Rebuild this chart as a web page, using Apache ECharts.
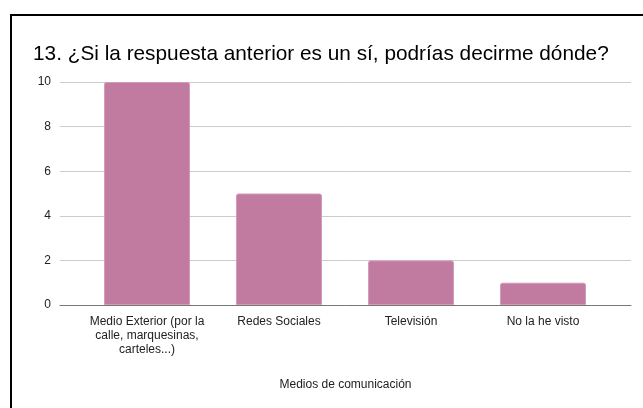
<!DOCTYPE html>
<html>
<head>
<meta charset="utf-8">
<script src="https://cdn.jsdelivr.net/npm/echarts@6/dist/echarts.min.js"></script>
<style>
  html, body { margin: 0; padding: 0; background: #fff; overflow: hidden; }
  #frame { position: absolute; left: 10px; top: 14px; width: 700px; height: 500px;
           border-top: 2px solid #000; border-left: 2px solid #000; }
  #chart { position: absolute; left: 0; top: 0; width: 643px; height: 408px; }
</style>
</head>
<body>
<div id="frame"></div>
<div id="chart"></div>
<script>
const chartTitle = '13. ¿Si la respuesta anterior es un sí, podrías decirme dónde?';
const axisTitle = 'Medios de comunicación';
const categories = ['Medio Exterior (por la\ncalle, marquesinas,\ncarteles...)', 'Redes Sociales', 'Televisión', 'No la he visto'];
const values = [10, 5, 2, 1];
const yTicks = [0, 2, 4, 6, 8, 10];

const font = 'Liberation Sans, Arial, sans-serif';
const chart = echarts.init(document.getElementById('chart'));
chart.setOption({
  backgroundColor: 'transparent',
  animation: false,
  title: {
    text: chartTitle,
    left: 28, top: 39,
    textStyle: { fontFamily: font, fontSize: 20.8, fontWeight: 'normal', color: '#000' }
  },
  grid: [
    { left: 60, right: 12, top: 82, bottom: 103 },
    { left: 81, right: 34, top: 82, bottom: 103 }
  ],
  xAxis: [
    {
      gridIndex: 0, type: 'category', data: categories,
      axisLine: { lineStyle: { color: '#777', width: 1 } },
      axisTick: { show: false }, axisLabel: { show: false },
      name: axisTitle, nameLocation: 'middle', nameGap: 74,
      nameTextStyle: { fontFamily: font, fontSize: 12, color: '#222' }
    },
    {
      gridIndex: 1, type: 'category', data: categories,
      axisLine: { show: false }, axisTick: { show: false },
      axisLabel: { fontFamily: font, fontSize: 12, color: '#222', lineHeight: 14, margin: 10, interval: 0 }
    }
  ],
  yAxis: [
    {
      gridIndex: 0, type: 'value', min: yTicks[0], max: yTicks[yTicks.length - 1], interval: 2,
      axisLine: { show: false }, axisTick: { show: false },
      axisLabel: { fontFamily: font, fontSize: 12, color: '#222', margin: 9 },
      splitLine: { lineStyle: { color: '#ccc', width: 1 } }
    },
    {
      gridIndex: 1, type: 'value', min: yTicks[0], max: yTicks[yTicks.length - 1], interval: 2,
      show: false
    }
  ],
  series: [{
    type: 'bar', xAxisIndex: 1, yAxisIndex: 1,
    data: values, barWidth: 86,
    itemStyle: { color: '#c27ba0', borderColor: '#d49ab8', borderWidth: 1, borderRadius: [2, 2, 0, 0] }
  }]
});
</script>
</body>
</html>
